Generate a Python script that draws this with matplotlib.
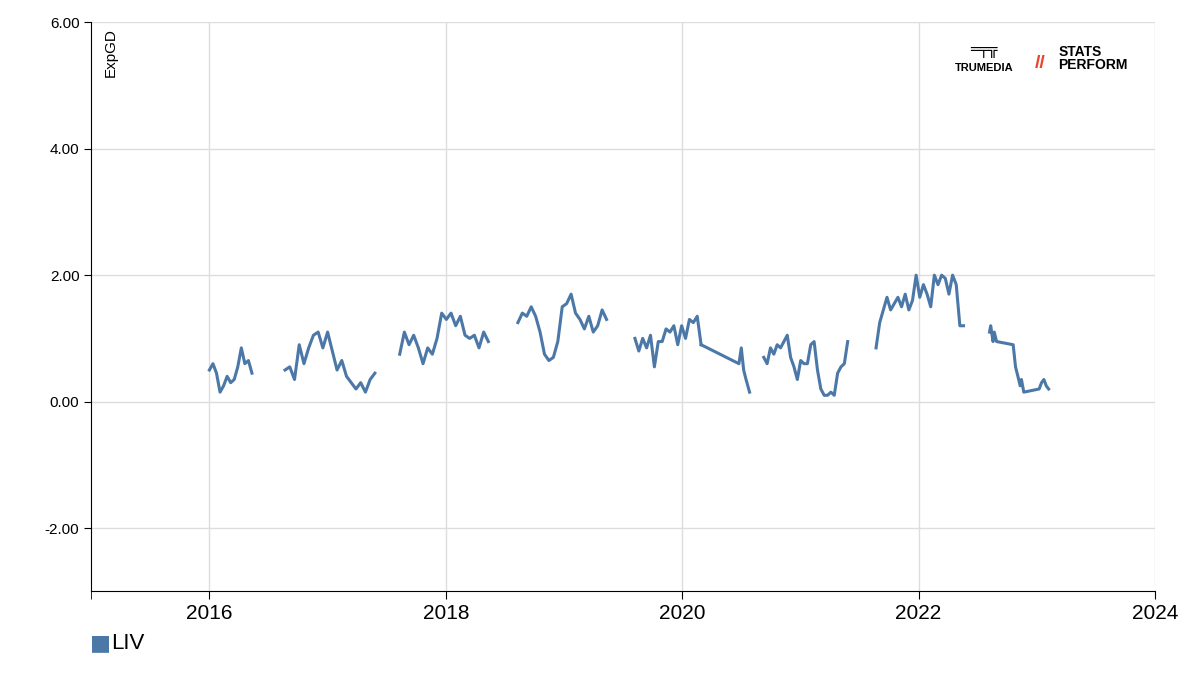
import numpy as np
import matplotlib
matplotlib.use("Agg")
import matplotlib.pyplot as plt
from matplotlib.ticker import FormatStrFormatter

plt.rcParams['font.family'] = ['Liberation Sans', 'DejaVu Sans']

team = "LIV"
color = "#4c78a8"
# seasons: (start year, end year, values)
seasons = [
    (2016.0, 2016.36, [0.5,0.6,0.45,0.15,0.25,0.4,0.3,0.35,0.55,0.85,0.6,0.65,0.45]),
    (2016.64, 2017.40, [0.5,0.55,0.35,0.9,0.6,0.85,1.05,1.1,0.85,1.1,0.8,0.5,0.65,0.4,0.3,0.2,0.3,0.15,0.35,0.45]),
    (2017.61, 2018.36, [0.75,1.1,0.9,1.05,0.85,0.6,0.85,0.75,1.0,1.4,1.3,1.4,1.2,1.35,1.05,1.0,1.05,0.85,1.1,0.95]),
    (2018.61, 2019.36, [1.25,1.4,1.35,1.5,1.35,1.1,0.75,0.65,0.7,0.95,1.5,1.55,1.7,1.4,1.3,1.15,1.35,1.1,1.2,1.45,1.3]),
    (2019.60, 2020.16, [1.0,0.8,1.0,0.85,1.05,0.55,0.95,0.95,1.15,1.1,1.2,0.9,1.2,1.0,1.3,1.25,1.35,0.9]),
    (2020.69, 2021.40, [0.7,0.6,0.85,0.75,0.9,0.85,0.95,1.05,0.7,0.55,0.35,0.65,0.6,0.6,0.9,0.95,0.5,0.2,0.1,0.1,0.15,0.1,0.45,0.55,0.6,0.95]),
    (2021.64, 2022.38, [0.85,1.25,1.45,1.65,1.45,1.55,1.65,1.5,1.7,1.45,1.6,2.0,1.65,1.85,1.7,1.5,2.0,1.85,2.0,1.95,1.7,2.0,1.85,1.2,1.2]),
]
# irregular tails
s5_tail_x = [2020.16, 2020.48, 2020.50, 2020.52, 2020.54, 2020.57]
s5_tail_y = [0.9, 0.6, 0.85, 0.5, 0.35, 0.15]
s8_x = [2022.60, 2022.61, 2022.63, 2022.64, 2022.66, 2022.80, 2022.82, 2022.84, 2022.86, 2022.87, 2022.89, 2023.02, 2023.04, 2023.06, 2023.08, 2023.10]
s8_y = [1.1, 1.2, 0.95, 1.1, 0.95, 0.9, 0.55, 0.4, 0.25, 0.35, 0.15, 0.2, 0.3, 0.35, 0.25, 0.2]

fig = plt.figure(figsize=(12, 6.75), dpi=100)
ax = fig.add_axes([0.076, 0.124, 0.8865, 0.843])
for x0, x1, v in seasons:
    ax.plot(np.linspace(x0, x1, len(v)), v, color=color, lw=2.2)
ax.plot(s5_tail_x, s5_tail_y, color=color, lw=2.2)
ax.plot(s8_x, s8_y, color=color, lw=2.2)

ax.set_xlim(2015.0, 2024.0)
ax.set_ylim(-3, 6)
ax.set_xticks(range(2016, 2025, 2))
ax.set_xticks([2015], minor=True)
ax.set_yticks([-2, 0, 2, 4, 6])
ax.yaxis.set_major_formatter(FormatStrFormatter('%.2f'))
ax.grid(True, which='major', color='#dddddd', lw=1)
ax.tick_params(which='minor', length=6)
ax.tick_params(axis='x', labelsize=15, length=6)
ax.tick_params(axis='y', labelsize=11, length=5)
for s in ['top', 'right']:
    ax.spines[s].set_visible(False)
ax.text(0.012, 0.99, "ExpGD", rotation=90, transform=ax.transAxes, va='top', ha='left', fontsize=11)
ax.set_axisbelow(True)

fig.text(0.075, 0.047, "■", color=color, fontsize=16, va='center', family='DejaVu Sans')
fig.text(0.093, 0.047, team, fontsize=16, va='center')
fig.text(0.82, 0.895, "TRUMEDIA", fontsize=8, weight='bold', ha='center')
fig.text(0.82, 0.92, "═╤╦", fontsize=11, weight='bold', ha='center', family='DejaVu Sans')
fig.text(0.862, 0.9, "//", fontsize=14, color='#e8452c', weight='bold')
fig.text(0.882, 0.898, "STATS\nPERFORM", fontsize=10, weight='bold', linespacing=0.9)
fig.savefig("out.png")
